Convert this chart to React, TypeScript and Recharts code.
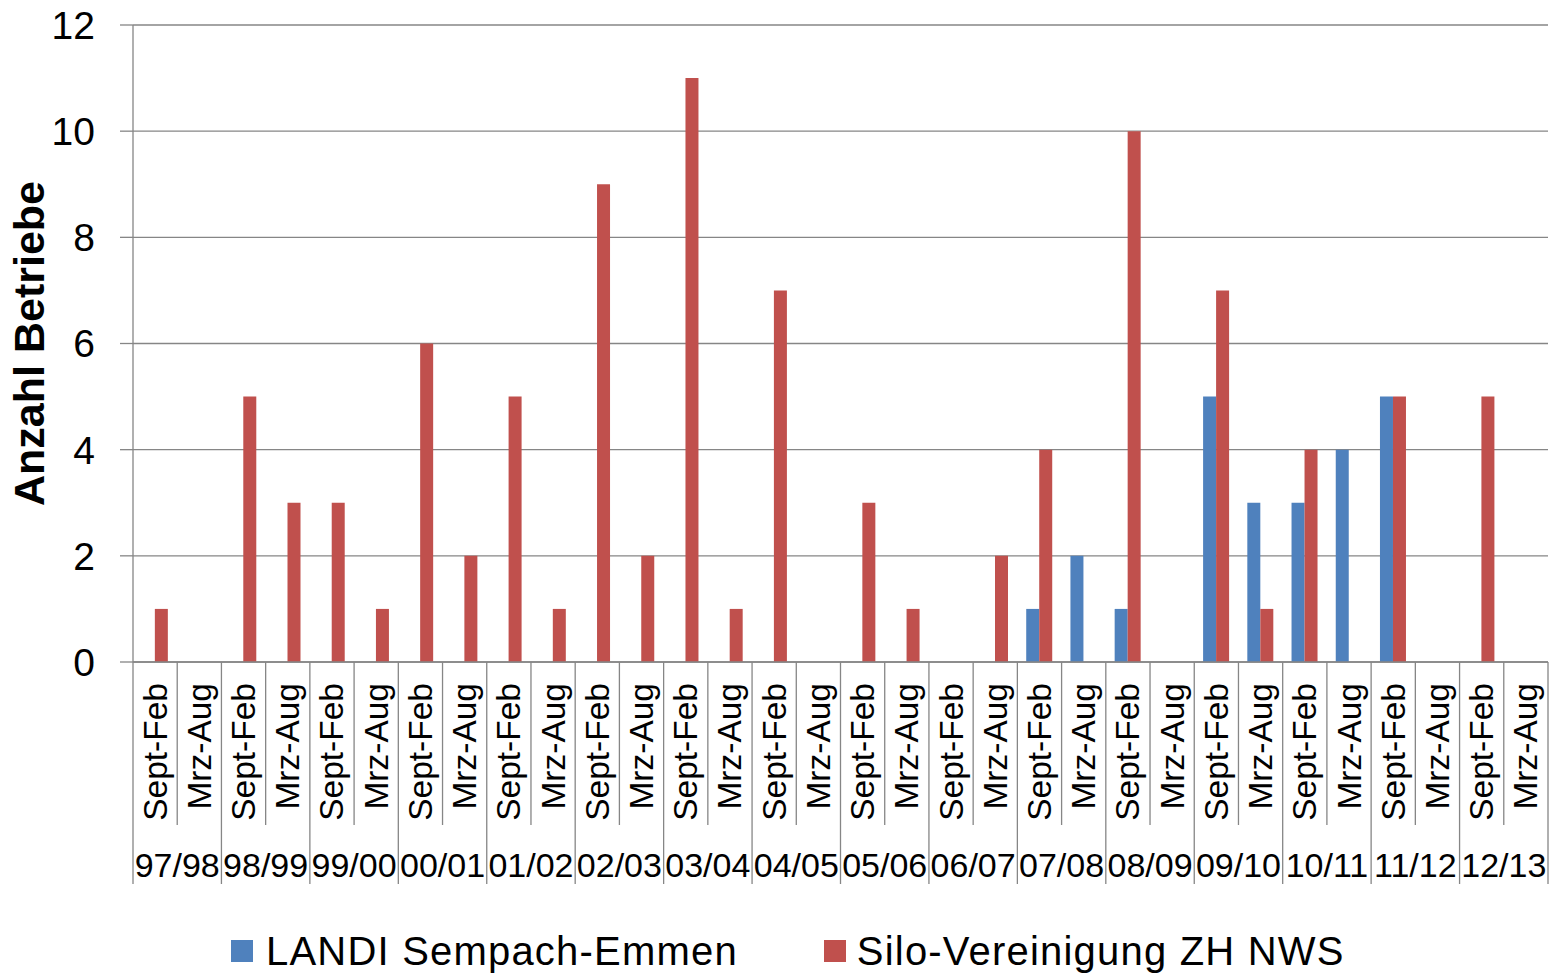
import React from 'react';
import { BarChart, Bar, XAxis, YAxis, CartesianGrid, Legend } from 'recharts';

// seasons (second axis level) and half-year labels (first level)
const seasons = ['97/98', '98/99', '99/00', '00/01', '01/02', '02/03', '03/04', '04/05',
  '05/06', '06/07', '07/08', '08/09', '09/10', '10/11', '11/12', '12/13'];
const halves = ['Sept-Feb', 'Mrz-Aug'];

const landi = [0, 0, 0, 0, 0, 0, 0, 0, 0, 0, 0, 0, 0, 0, 0, 0,
  0, 0, 0, 0, 1, 2, 1, 0, 5, 3, 3, 4, 5, 0, 0, 0];
const silo = [1, 0, 5, 3, 3, 1, 6, 2, 5, 1, 9, 2, 11, 1, 7, 0,
  3, 1, 0, 2, 4, 0, 10, 0, 7, 1, 4, 0, 5, 0, 5, 0];

const yTicks = [0, 2, 4, 6, 8, 10, 12];

const seriesNames = ['LANDI Sempach-Emmen', 'Silo-Vereinigung ZH NWS'];
const blue = '#4F81BD';
const red = '#C0504D';
const grey = '#868686';
const font = '"Liberation Sans", Arial, sans-serif';

const data = landi.map((v, i) => ({
  id: `${seasons[Math.floor(i / 2)]} ${halves[i % 2]}`,
  landi: v,
  silo: silo[i],
}));

function HalfTick(props: any) {
  const { x, y, index, width, visibleTicksCount } = props;
  const bw = width / visibleTicksCount;
  const left = x - bw / 2;
  const first = index % 2 === 0;
  const isLast = index === visibleTicksCount - 1;
  return (
    <g>
      <line x1={left} y1={y} x2={left} y2={y + (first ? 222 : 163)} stroke={grey} strokeWidth={1.3} />
      {isLast && <line x1={x + bw / 2} y1={y} x2={x + bw / 2} y2={y + 222} stroke={grey} strokeWidth={1.3} />}
      <text
        transform={`translate(${x},${y + 21}) rotate(-90)`}
        textAnchor="end"
        dominantBaseline="central"
        fontSize={33.5}
        fontFamily={font}
        fill="#000"
      >
        {halves[index % 2]}
      </text>
      {first && (
        <text x={x + bw / 2} y={y + 215} textAnchor="middle" fontSize={34} fontFamily={font} fill="#000">
          {seasons[index / 2]}
        </text>
      )}
    </g>
  );
}

function YLabel(props: any) {
  const { viewBox } = props;
  const cx = viewBox.x + 29;
  const cy = viewBox.y + viewBox.height / 2;
  return (
    <text
      transform={`translate(${cx},${cy}) rotate(-90)`}
      textAnchor="middle"
      dominantBaseline="central"
      fontSize={43}
      fontWeight="bold"
      fontFamily={font}
      fill="#000"
    >
      Anzahl Betriebe
    </text>
  );
}

function LegendBox() {
  const colors = [blue, red];
  return (
    <div style={{ height: 91, position: 'relative', fontFamily: font }}>
      <div style={{ display: 'flex', alignItems: 'flex-start', paddingLeft: 231, paddingTop: 47, gap: 86 }}>
        {seriesNames.map((name, i) => (
          <div key={name} style={{ display: 'flex', alignItems: 'flex-start' }}>
            <span style={{ width: 22, height: 22, background: colors[i], display: 'inline-block', marginTop: 9, marginRight: i === 0 ? 13 : 11 }} />
            <span style={{ fontSize: 40, lineHeight: '40px', letterSpacing: 1.2, color: '#000', whiteSpace: 'nowrap' }}>{name}</span>
          </div>
        ))}
      </div>
    </div>
  );
}

export default function App() {
  return (
    <div style={{ width: 1558, height: 975, background: '#fff' }}>
      <style>{'body{margin:0}'}</style>
      <BarChart
        width={1558}
        height={975}
        data={data}
        margin={{ top: 25, right: 10, left: 0, bottom: 0 }}
        barCategoryGap="20%"
        barGap={0}
      >
        <CartesianGrid vertical={false} stroke={grey} strokeWidth={1.3} />
        <XAxis
          dataKey="id"
          interval={0}
          tickLine={false}
          tickSize={0}
          tickMargin={0}
          height={222}
          axisLine={{ stroke: grey, strokeWidth: 1.3 }}
          tick={<HalfTick />}
        />
        <YAxis
          domain={[0, 12]}
          ticks={yTicks}
          width={133}
          tickSize={13}
          tickMargin={25}
          tickLine={{ stroke: grey, strokeWidth: 1.3 }}
          axisLine={{ stroke: grey, strokeWidth: 1.3 }}
          tick={{ fontSize: 39, fill: '#000', fontFamily: font }}
          label={{ content: <YLabel /> }}
        />
        <Legend verticalAlign="bottom" content={<LegendBox />} wrapperStyle={{ left: 0, bottom: 0, width: 1558 }} />
        <Bar dataKey="landi" name={seriesNames[0]} fill={blue} isAnimationActive={false} />
        <Bar dataKey="silo" name={seriesNames[1]} fill={red} isAnimationActive={false} />
      </BarChart>
    </div>
  );
}
